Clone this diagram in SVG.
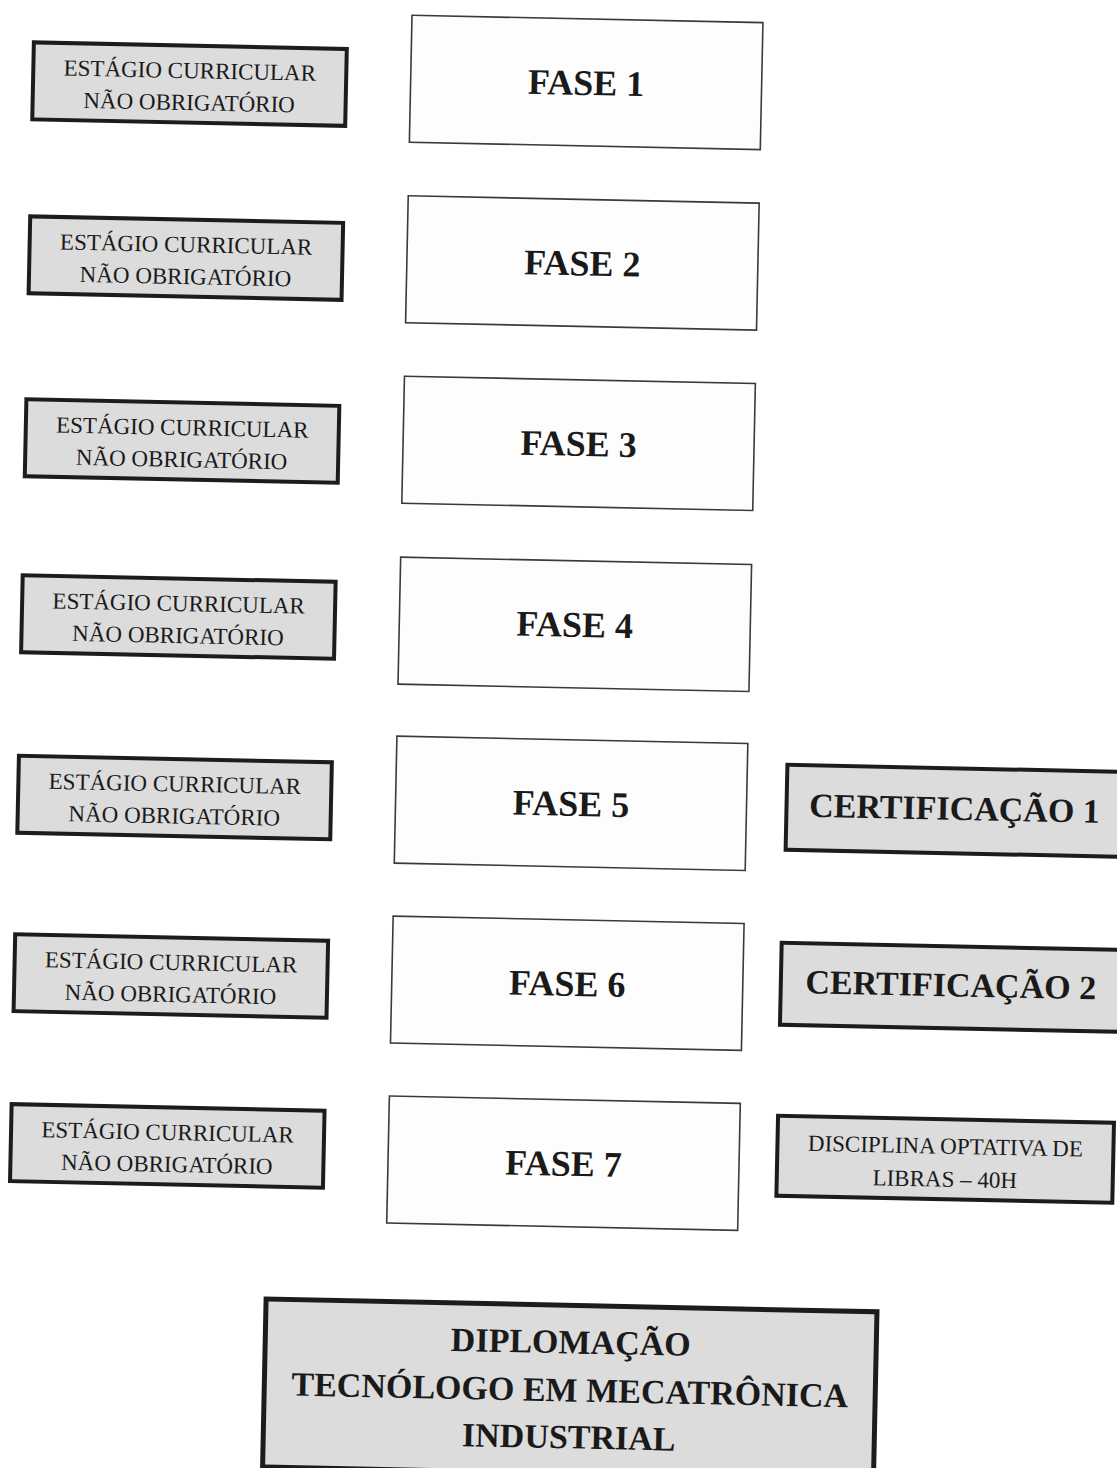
<svg xmlns="http://www.w3.org/2000/svg" width="1117" height="1468" viewBox="0 0 1117 1468">
  <style>
    .est rect { fill: #dcdcdc; stroke: #1c1c1c; stroke-width: 4; }
    .fase rect { fill: #fdfdfd; stroke: #3a3a3a; stroke-width: 1.6; }
    .cert rect { fill: #dcdcdc; stroke: #1c1c1c; stroke-width: 4; }
    .reg { font-family: "Liberation Serif", serif; font-size: 23px; fill: #1a1a1a; text-anchor: middle; }
    .big { font-family: "Liberation Serif", serif; font-size: 36px; font-weight: bold; fill: #1a1a1a; text-anchor: middle; }
    .cer { font-family: "Liberation Serif", serif; font-size: 34px; font-weight: bold; fill: #1a1a1a; text-anchor: middle; }
  </style>
  <rect x="0" y="0" width="1117" height="1468" fill="#ffffff"/>
  <g transform="rotate(1.2 558 734)">
    <g id="connectors"/>

    <g id="estagio1" class="est"><rect x="19.5" y="53.5" width="313" height="77"/>
      <text class="reg" x="176" y="86">ESTÁGIO CURRICULAR</text><text class="reg" x="176" y="118">NÃO OBRIGATÓRIO</text></g>
    <g id="estagio2" class="est"><rect x="19.5" y="227.5" width="313" height="77"/>
      <text class="reg" x="176" y="260">ESTÁGIO CURRICULAR</text><text class="reg" x="176" y="292">NÃO OBRIGATÓRIO</text></g>
    <g id="estagio3" class="est"><rect x="19.5" y="410.5" width="313" height="77"/>
      <text class="reg" x="176" y="443">ESTÁGIO CURRICULAR</text><text class="reg" x="176" y="475">NÃO OBRIGATÓRIO</text></g>
    <g id="estagio4" class="est"><rect x="19.5" y="586.5" width="313" height="77"/>
      <text class="reg" x="176" y="619">ESTÁGIO CURRICULAR</text><text class="reg" x="176" y="651">NÃO OBRIGATÓRIO</text></g>
    <g id="estagio5" class="est"><rect x="19.5" y="767" width="313" height="77"/>
      <text class="reg" x="176" y="799.5">ESTÁGIO CURRICULAR</text><text class="reg" x="176" y="831.5">NÃO OBRIGATÓRIO</text></g>
    <g id="estagio6" class="est"><rect x="19.5" y="945.5" width="313" height="77"/>
      <text class="reg" x="176" y="978">ESTÁGIO CURRICULAR</text><text class="reg" x="176" y="1010">NÃO OBRIGATÓRIO</text></g>
    <g id="estagio7" class="est"><rect x="19.5" y="1115.5" width="313" height="77"/>
      <text class="reg" x="176" y="1148">ESTÁGIO CURRICULAR</text><text class="reg" x="176" y="1180">NÃO OBRIGATÓRIO</text></g>

    <g id="fase1" class="fase"><rect x="397" y="18.5" width="351" height="127"/><text class="big" x="572.5" y="94.5">FASE 1</text></g>
    <g id="fase2" class="fase"><rect x="397" y="199" width="351" height="127"/><text class="big" x="572.5" y="275">FASE 2</text></g>
    <g id="fase3" class="fase"><rect x="397" y="379.5" width="351" height="127"/><text class="big" x="572.5" y="455.5">FASE 3</text></g>
    <g id="fase4" class="fase"><rect x="397" y="560.5" width="351" height="127"/><text class="big" x="572.5" y="636.5">FASE 4</text></g>
    <g id="fase5" class="fase"><rect x="397" y="739.5" width="351" height="127"/><text class="big" x="572.5" y="815.5">FASE 5</text></g>
    <g id="fase6" class="fase"><rect x="397" y="919.5" width="351" height="127"/><text class="big" x="572.5" y="995.5">FASE 6</text></g>
    <g id="fase7" class="fase"><rect x="397" y="1099.5" width="351" height="127"/><text class="big" x="572.5" y="1175.5">FASE 7</text></g>

    <g id="cert1" class="cert"><rect x="788" y="760" width="336" height="85"/><text class="cer" x="956" y="811.5">CERTIFICAÇÃO 1</text></g>
    <g id="cert2" class="cert"><rect x="786" y="938" width="340" height="82"/><text class="cer" x="956" y="988">CERTIFICAÇÃO 2</text></g>
    <g id="libras" class="cert"><rect x="786" y="1111" width="336" height="80"/>
      <text class="reg" x="954" y="1145.5">DISCIPLINA OPTATIVA DE</text><text class="reg" x="954" y="1178.5">LIBRAS – 40H</text></g>

    <g id="diplomacao" class="cert"><rect x="278" y="1305" width="611" height="168" style="stroke-width:5"/>
      <text class="cer" x="583.5" y="1353">DIPLOMAÇÃO</text>
      <text class="cer" x="583.5" y="1401">TECNÓLOGO EM MECATRÔNICA</text>
      <text class="cer" x="583.5" y="1448">INDUSTRIAL</text></g>
  </g>
</svg>
